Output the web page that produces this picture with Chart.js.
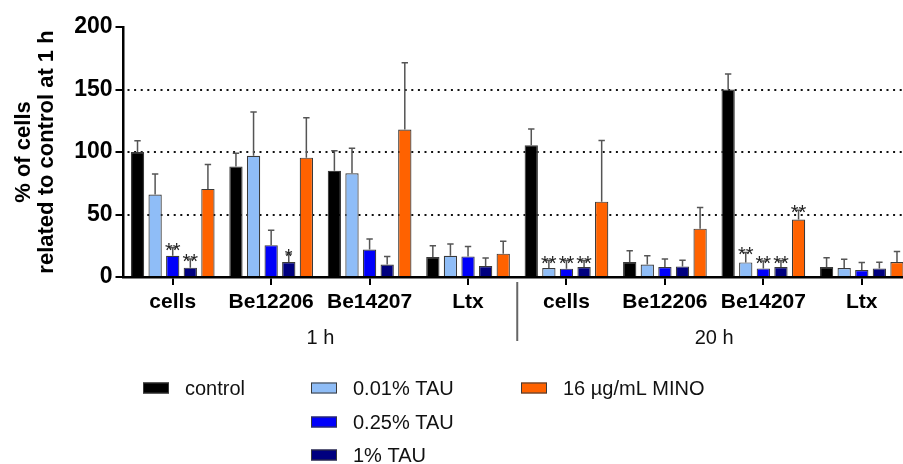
<!DOCTYPE html>
<html>
<head>
<meta charset="utf-8">
<script src="https://cdn.jsdelivr.net/npm/chart.js@4.4.0/dist/chart.umd.min.js"></script>
<style>
  html, body { margin: 0; padding: 0; background: #fff; overflow: hidden; }
  #wrap { position: relative; width: 920px; height: 464px; }
</style>
</head>
<body>
<div id="wrap"><canvas id="chart" width="920" height="464"></canvas></div>
<script>
// groups on the x axis, two time points of four each
const groups = ['cells', 'Be12206', 'Be14207', 'Ltx', 'cells', 'Be12206', 'Be14207', 'Ltx'];
const timePoints = ['1 h', '20 h'];
const groupsPerTime = 4;

const seriesLabels = ['control', '0.01% TAU', '0.25% TAU', '1% TAU', '16 µg/mL MINO'];
const seriesColors = ['#000000', '#8fbdf7', '#0000fa', '#00007f', '#ff6200'];

// means (% of control at 1 h)
const controlVals = [100, 88.5, 85, 16, 105.5, 12, 150, 8];
const tau001Vals  = [66, 97, 83, 17, 7.2, 10, 11.7, 7.2];
const tau025Vals  = [17, 25.5, 22, 16.5, 6.7, 8, 6.9, 5.6];
const tau1Vals    = [7.5, 12, 10, 8.8, 8, 8.5, 8, 6.9];
const minoVals    = [70.5, 95.5, 118, 18.7, 60.3, 38.7, 46, 12];

// upper error (SD)
const controlSd = [9, 10.5, 16, 9, 13, 9, 12.5, 7.5];
const tau001Sd  = [16.5, 35, 20, 9.5, 6, 7, 8, 7];
const tau025Sd  = [6.5, 12, 8.5, 8, 6.5, 6.5, 6, 6];
const tau1Sd    = [7, 6.5, 6.5, 6.5, 5, 5, 5, 5];
const minoSd    = [19.5, 32, 53.5, 10, 49, 17, 7.5, 8.5];

// significance marks
const controlSig = ['', '', '', '', '', '', '', ''];
const tau001Sig  = ['', '', '', '', '**', '', '**', ''];
const tau025Sig  = ['**', '', '', '', '**', '', '**', ''];
const tau1Sig    = ['**', '*', '', '', '**', '', '**', ''];
const minoSig    = ['', '', '', '', '', '', '**', ''];

const yTicks = [0, 50, 100, 150, 200];
const dottedLines = [50, 100, 150];

const allVals = [controlVals, tau001Vals, tau025Vals, tau1Vals, minoVals];
const allSd = [controlSd, tau001Sd, tau025Sd, tau1Sd, minoSd];
const allSig = [controlSig, tau001Sig, tau025Sig, tau1Sig, minoSig];

const datasets = seriesLabels.map((label, i) => ({
  label,
  data: allVals[i],
  sd: allSd[i],
  sig: allSig[i],
  backgroundColor: seriesColors[i],
  borderColor: '#3a3a3a',
  borderWidth: 1.2,
  categoryPercentage: 0.894,
  barPercentage: 0.756,
}));

const ARIAL = '"Liberation Sans", Arial, sans-serif';

const extras = {
  id: 'extras',
  beforeDatasetsDraw(chart) {
    const { ctx, chartArea: a, scales: { y } } = chart;
    ctx.save();
    ctx.strokeStyle = '#111';
    ctx.lineWidth = 2;
    ctx.setLineDash([2, 4.6]);
    dottedLines.forEach(v => {
      const py = Math.round(y.getPixelForValue(v));
      ctx.beginPath();
      ctx.moveTo(a.left + 4, py);
      ctx.lineTo(a.right, py);
      ctx.stroke();
    });
    ctx.restore();
  },
  afterDatasetsDraw(chart) {
    const { ctx, scales: { y } } = chart;
    ctx.save();
    chart.data.datasets.forEach((ds, i) => {
      const meta = chart.getDatasetMeta(i);
      meta.data.forEach((bar, j) => {
        const top = y.getPixelForValue(ds.data[j] + ds.sd[j]);
        ctx.strokeStyle = '#555';
        ctx.lineWidth = 1.5;
        ctx.beginPath();
        ctx.moveTo(bar.x, bar.y);
        ctx.lineTo(bar.x, top);
        ctx.moveTo(bar.x - 3.2, top);
        ctx.lineTo(bar.x + 3.2, top);
        ctx.stroke();
        if (ds.sig[j]) {
          ctx.fillStyle = '#222';
          ctx.font = '20px ' + ARIAL;
          ctx.textAlign = 'center';
          ctx.textBaseline = 'alphabetic';
          ctx.fillText(ds.sig[j], bar.x, top + 9);
        }
      });
    });
    ctx.restore();
  },
  afterDraw(chart) {
    const { ctx, scales: { x } } = chart;
    ctx.save();
    // separator between time points
    const sepX = (x.getPixelForValue(groupsPerTime - 1) + x.getPixelForValue(groupsPerTime)) / 2;
    ctx.strokeStyle = '#666';
    ctx.lineWidth = 2;
    ctx.beginPath();
    ctx.moveTo(sepX, 282);
    ctx.lineTo(sepX, 341);
    ctx.stroke();
    // time point labels
    ctx.fillStyle = '#111';
    ctx.font = '20px ' + ARIAL;
    ctx.textAlign = 'center';
    ctx.textBaseline = 'middle';
    timePoints.forEach((t, k) => {
      const x0 = x.getPixelForValue(k * groupsPerTime);
      const x1 = x.getPixelForValue(k * groupsPerTime + groupsPerTime - 1);
      ctx.fillText(t, (x0 + x1) / 2, 338);
    });
    // legend in three columns
    const colX = [143, 311, 521];
    const rowY = [388, 422, 455];
    const place = [[0, 0], [1, 0], [1, 1], [1, 2], [2, 0]];
    ctx.textAlign = 'left';
    chart.data.datasets.forEach((ds, i) => {
      const [c, r] = place[i];
      const sx = colX[c], sy = rowY[r];
      ctx.fillStyle = ds.backgroundColor;
      ctx.fillRect(sx, sy - 5.5, 26, 11);
      ctx.strokeStyle = '#3a3a3a';
      ctx.lineWidth = 1;
      ctx.strokeRect(sx + 0.5, sy - 5, 25, 10);
      ctx.fillStyle = '#111';
      ctx.fillText(ds.label, sx + 42, sy + 1);
    });
    ctx.restore();
  },
};

new Chart(document.getElementById('chart'), {
  type: 'bar',
  data: { labels: groups, datasets },
  plugins: [extras],
  options: {
    responsive: false,
    animation: false,
    layout: { padding: { top: 27, right: 9, bottom: 0, left: 0 } },
    plugins: { legend: { display: false }, tooltip: { enabled: false } },
    scales: {
      x: {
        afterFit: s => { s.height = 187; },
        grid: { offset: false, drawOnChartArea: false, color: '#000', lineWidth: 2, tickLength: 8 },
        border: { color: '#000', width: 2.5 },
        ticks: {
          color: '#000', padding: 5, maxRotation: 0, autoSkip: false,
          font: { family: ARIAL, size: 21, weight: 'bold' },
        },
      },
      y: {
        min: 0, max: 200,
        afterFit: s => { s.width = 123.5; },
        afterBuildTicks: s => { s.ticks = yTicks.map(v => ({ value: v })); },
        grid: { drawOnChartArea: false, color: '#000', lineWidth: 2, tickLength: 8 },
        border: { color: '#000', width: 2.5 },
        ticks: {
          color: '#000', padding: 3,
          font: { family: ARIAL, size: 23, weight: 'bold' },
        },
        title: {
          display: true,
          text: ['% of cells', 'related to control at 1 h'],
          color: '#000',
          font: { family: ARIAL, size: 22, weight: 'bold', lineHeight: 1.05 },
          padding: { top: 12.5, bottom: 0 },
        },
      },
    },
  },
});
</script>
</body>
</html>
